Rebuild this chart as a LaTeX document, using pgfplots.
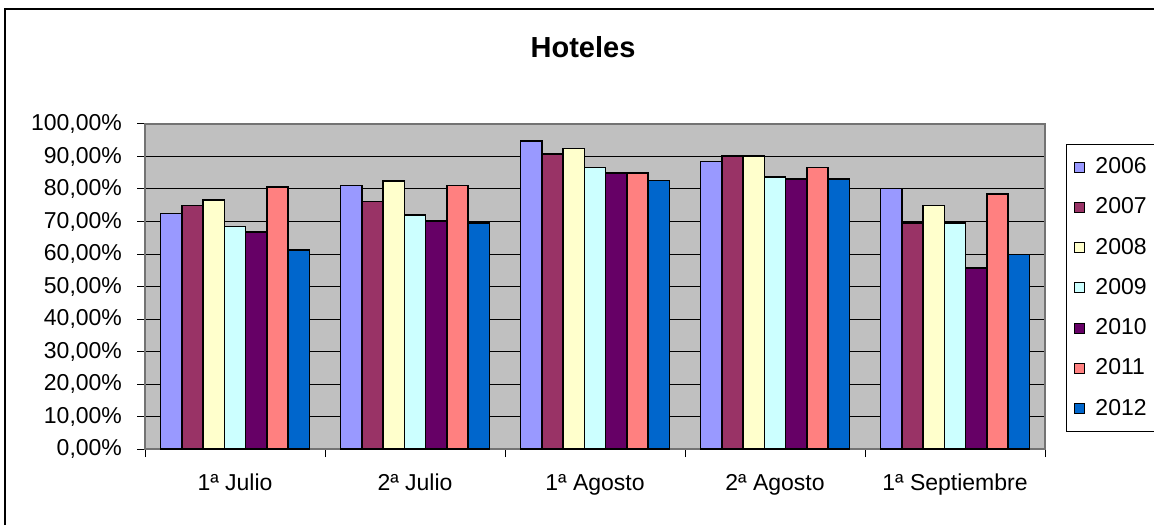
\documentclass[border=0pt]{standalone}
\usepackage{fontspec}
\setmainfont{Liberation Sans}
\usepackage{pgfplots}
\pgfplotsset{compat=1.18}

\definecolor{c2006}{HTML}{9999FF}
\definecolor{c2007}{HTML}{993366}
\definecolor{c2008}{HTML}{FFFFCC}
\definecolor{c2009}{HTML}{CCFFFF}
\definecolor{c2010}{HTML}{660066}
\definecolor{c2011}{HTML}{FF8080}
\definecolor{c2012}{HTML}{0066CC}
\definecolor{plotbg}{HTML}{C0C0C0}

\begin{document}
\begin{tikzpicture}
% outer chart frame (right and bottom edges fall outside the picture)
\draw[line width=1pt] (2.5pt,0pt) -- (2.5pt,258pt) -- (577pt,258pt);
\node[font=\fontsize{14.5}{17}\selectfont\bfseries] at (291.5pt,239pt) {Hoteles};
\begin{axis}[
    at={(72.5pt,38pt)}, anchor=south west,
    width=450pt, height=162.5pt, scale only axis,
    xmin=-0.5, xmax=4.5, ymin=0, ymax=100,
    ybar=0pt, bar width=0.1183,
    axis background/.style={fill=plotbg},
    axis line style={black!55, line width=0.6pt},
    ytick={0,10,...,100},
    yticklabels={{0,00\%},{10,00\%},{20,00\%},{30,00\%},{40,00\%},{50,00\%},{60,00\%},{70,00\%},{80,00\%},{90,00\%},{100,00\%}},
    ymajorgrids, grid style={black, line width=0.5pt},
    xtick={-0.5,0.5,1.5,2.5,3.5,4.5},
    x tick label as interval,
    xticklabels={1ª Julio,2ª Julio,1ª Agosto,2ª Agosto,1ª Septiembre},
    tick align=outside, major tick length=4pt,
    xtick pos=lower, ytick pos=left,
    tick style={black, line width=0.5pt},
    ticklabel style={font=\fontsize{11.5}{13}\selectfont},
    yticklabel style={xshift=-4pt},
    xticklabel style={yshift=-5pt},
    legend style={at={(rel axis cs:1.0233,0.9385)}, anchor=north west,
        draw=black, line width=0.5pt, fill=white,
        font=\fontsize{11.5}{13}\selectfont, row sep=6.6pt,
        inner xsep=4pt, inner ysep=4.5pt,
        /tikz/every odd column/.append style={column sep=3pt}},
    legend cell align=left,
    legend image code/.code={\draw[#1,draw=black,line width=0.5pt] (0pt,-2.5pt) rectangle (5pt,2.5pt);},
    every axis plot/.append style={draw=black, line width=0.8pt},
]
\addplot[fill=c2006] coordinates {(0,72.5) (1,81.1) (2,94.8) (3,88.4) (4,80.1)};
\addplot[fill=c2007] coordinates {(0,74.9) (1,76.1) (2,90.7) (3,90.1) (4,69.6)};
\addplot[fill=c2008] coordinates {(0,76.7) (1,82.5) (2,92.4) (3,90.1) (4,74.9)};
\addplot[fill=c2009] coordinates {(0,68.5) (1,72.0) (2,86.6) (3,83.7) (4,69.6)};
\addplot[fill=c2010] coordinates {(0,66.8) (1,70.2) (2,84.9) (3,83.1) (4,55.7)};
\addplot[fill=c2011] coordinates {(0,80.6) (1,81.1) (2,84.9) (3,86.6) (4,78.5)};
\addplot[fill=c2012] coordinates {(0,61.3) (1,69.6) (2,82.6) (3,83.1) (4,59.8)};
\legend{2006,2007,2008,2009,2010,2011,2012}
\end{axis}
\pgfresetboundingbox
\path[use as bounding box] (0pt,0pt) rectangle (577pt,262.5pt);
\end{tikzpicture}
\end{document}
